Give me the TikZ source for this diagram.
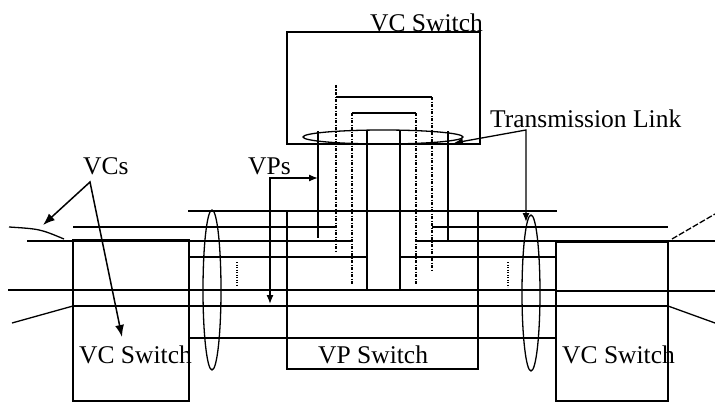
\documentclass[tikz,border=0pt]{standalone}
\usepackage{fontspec}
\setmainfont{Liberation Serif}
\usetikzlibrary{arrows.meta}
\begin{document}
\begin{tikzpicture}[x=1pt,y=-1pt,
  thinln/.style={line width=1.3pt},
  thickln/.style={line width=2.7pt},
  ddot/.style={line width=1.2pt, dash pattern=on 3pt off 1.5pt on 1pt off 1.5pt},
  dotmark/.style={line width=1.7pt, dash pattern=on 1.4pt off 1.1pt},
  txt/.style={font=\fontsize{25.5}{30}\selectfont, inner sep=0pt, anchor=base west},
  bigptr/.style={line width=1.5pt, {Latex[length=12pt,width=9pt]}-{Latex[length=12pt,width=9pt]}},
  smallptr/.style={line width=1.3pt, {Latex[length=9pt,width=7pt]}-{Latex[length=9pt,width=7pt]}},
]
\useasboundingbox (0,0) rectangle (715,404);

% boxes
\draw[thinln] (287,32) rectangle (480,144);
\draw[thinln] (287,211) rectangle (478,369);
\draw[thinln] (73,240) rectangle (189,401);
\draw[thinln] (556,242) rectangle (668,401);

% labels
\node[txt] (tvc) at (370,32) {VC Switch};
\node[txt] (vps) at (318,363) {VP Switch};
\node[txt] (lvc) at (79,363) {VC Switch};
\node[txt] (rvc) at (562,363) {VC Switch};
\node[txt] (vcs) at (83,174) {VCs};
\node[txt] (vpl) at (248,174) {VPs};
\node[txt] (tl) at (490,127) {Transmission Link};

% horizontal lines
\draw[thickln] (188,211) -- (557,211);
\draw[thinln] (73,227) -- (336,227);
\draw[thinln] (432,227) -- (668,227);
\draw[thinln] (27,241) -- (352,241);
\draw[thinln] (416,241) -- (715,241);
\draw[thickln] (189,257) -- (367,257);
\draw[thickln] (400,257) -- (556,257);
\draw[thinln] (8,290) -- (189,290);
\draw[thickln] (189,290) -- (556,290);
\draw[thinln] (556,291) -- (715,291);
\draw[thinln] (73,306) -- (668,306);
\draw[thickln] (189,338) -- (556,338);

% diverging ends
\draw[thinln] (9,227) .. controls (40,229) .. (64,239);
\draw[thinln] (12,323) -- (73,306);
\draw[thinln, dash pattern=on 6pt off 2pt] (672,239) -- (715,214);
\draw[thinln] (668,306) -- (715,323);

% vertical VP/VC paths into the top switch
\draw[thickln] (318,131) -- (318,238);
\draw[thickln] (448,131) -- (448,240);
\draw[thickln] (367,130) -- (367,290);
\draw[thickln] (400,130) -- (400,290);

\draw[ddot] (336,85) -- (336,253);
\draw[thinln] (336,97) -- (432,97);
\draw[ddot] (432,97) -- (432,270);
\draw[ddot] (352,113) -- (352,285);
\draw[thinln] (352,113) -- (416,113);
\draw[ddot] (416,113) -- (416,285);

% transmission link ellipses
\draw[thinln] (383,137) ellipse [x radius=80pt, y radius=7pt];
\draw[thinln] (212,290) ellipse [x radius=9pt, y radius=80pt];
\draw[thinln] (531,293) ellipse [x radius=9pt, y radius=78pt];

% more-lines marks
\draw[dotmark] (237,262) -- (237,286);
\draw[dotmark] (508,262) -- (508,287);

% pointers
\coordinate (vpa) at (270,304);
\coordinate (vpb) at (270,178);
\coordinate (vpc) at (318,178);
\draw[smallptr] (vpa) -- (vpb) -- (vpc);

\coordinate (vca) at (43,225);
\coordinate (vcb) at (90,182);
\coordinate (vcc) at (122,337);
\draw[bigptr] (vca) -- (vcb) -- (vcc);

\coordinate (tla) at (454,143);
\coordinate (tlb) at (526,130);
\coordinate (tlc) at (526,222);
\draw[smallptr] (tla) -- (tlb) -- (tlc);
\end{tikzpicture}
\end{document}
